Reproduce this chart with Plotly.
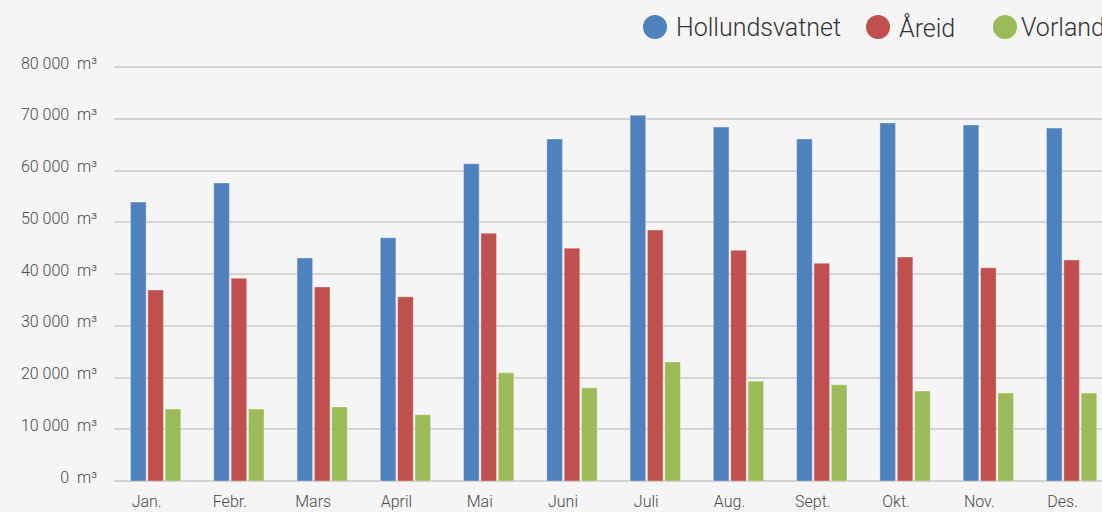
import plotly.graph_objects as go

months = ["Jan.", "Febr.", "Mars", "April", "Mai", "Juni", "Juli", "Aug.", "Sept.", "Okt.", "Nov.", "Des."]
hollundsvatnet = [53900, 57600, 43100, 47000, 61300, 66100, 70700, 68400, 66100, 69200, 68800, 68200]
areid = [36900, 39200, 37500, 35600, 47900, 45000, 48500, 44600, 42100, 43300, 41200, 42700]
vorland = [13900, 13900, 14300, 12800, 20900, 18000, 23000, 19300, 18600, 17400, 17000, 17000]
series_names = ["Hollundsvatnet", "Åreid", "Vorland"]
colors = ["#4f81bd", "#c0504d", "#9bbb59"]
tick_vals = [0, 10000, 20000, 30000, 40000, 50000, 60000, 70000, 80000]
tick_text = ["0  m³", "10 000  m³", "20 000  m³", "30 000  m³", "40 000  m³",
             "50 000  m³", "60 000  m³", "70 000  m³", "80 000  m³"]

W, H = 1102, 512
ML, MR, MT, MB = 114, 0, 65, 31
PW, PH = W - ML - MR, H - MT - MB
FONT = "Roboto"

fig = go.Figure()
for name, vals, col in zip(series_names, [hollundsvatnet, areid, vorland], colors):
    fig.add_trace(go.Bar(
        x=list(range(len(months))), y=vals, name=name,
        marker=dict(color=col, line=dict(color="rgba(255,255,255,0.35)", width=1)),
        showlegend=False, hoverinfo="skip",
    ))

def px_x(p):
    return (p - ML) / PW

def px_y(p):
    return (H - MB - p) / PH

# manual legend (cropped at right edge as in the reference)
legend_pos = [(655, 674), (878, 897), (1005, 1019)]
shapes = []
annotations = []
for (cx, tx), name, col in zip(legend_pos, series_names, colors):
    shapes.append(dict(type="circle", xref="paper", yref="paper",
                       x0=px_x(cx - 12), x1=px_x(cx + 12),
                       y0=px_y(27 + 12), y1=px_y(27 - 12),
                       fillcolor=col, line=dict(width=0)))
    annotations.append(dict(xref="paper", yref="paper", x=px_x(tx), y=px_y(28),
                            xanchor="left", yanchor="middle", showarrow=False,
                            text=name, font=dict(family=FONT, size=25, color="#333333", weight=300)))

fig.update_layout(
    width=W, height=H,
    margin=dict(l=ML, r=MR, t=MT, b=MB, pad=0),
    paper_bgcolor="#f5f5f5", plot_bgcolor="#f5f5f5",
    barmode="group", bargap=0.375, bargroupgap=0.1,
    shapes=shapes, annotations=annotations,
    font=dict(family=FONT, size=16, color="#4a4a4a"),
    xaxis=dict(
        tickvals=list(range(len(months))), ticktext=months,
        range=[-0.5, -0.5 + PW / 83.27],
        showgrid=False, zeroline=False, showline=False, ticks="",
        ticklabelshift=-9, ticklabelstandoff=9,
        tickfont=dict(family=FONT, size=16, color="#4a4a4a", weight=300),
    ),
    yaxis=dict(
        range=[0, 80400], tickvals=tick_vals, ticktext=tick_text,
        showgrid=True, gridcolor="#d3d3d3", gridwidth=2,
        zeroline=True, zerolinecolor="#d3d3d3", zerolinewidth=2,
        showline=False, ticks="", ticklabelstandoff=16, ticklabelshift=-4,
        tickfont=dict(family=FONT, size=16, color="#4a4a4a", weight=300),
    ),
)

fig.write_html(
    "out.html",
    config={"displayModeBar": False},
    post_script="document.body.style.margin='0';document.body.style.background='#f5f5f5';document.body.style.overflow='hidden';",
)
